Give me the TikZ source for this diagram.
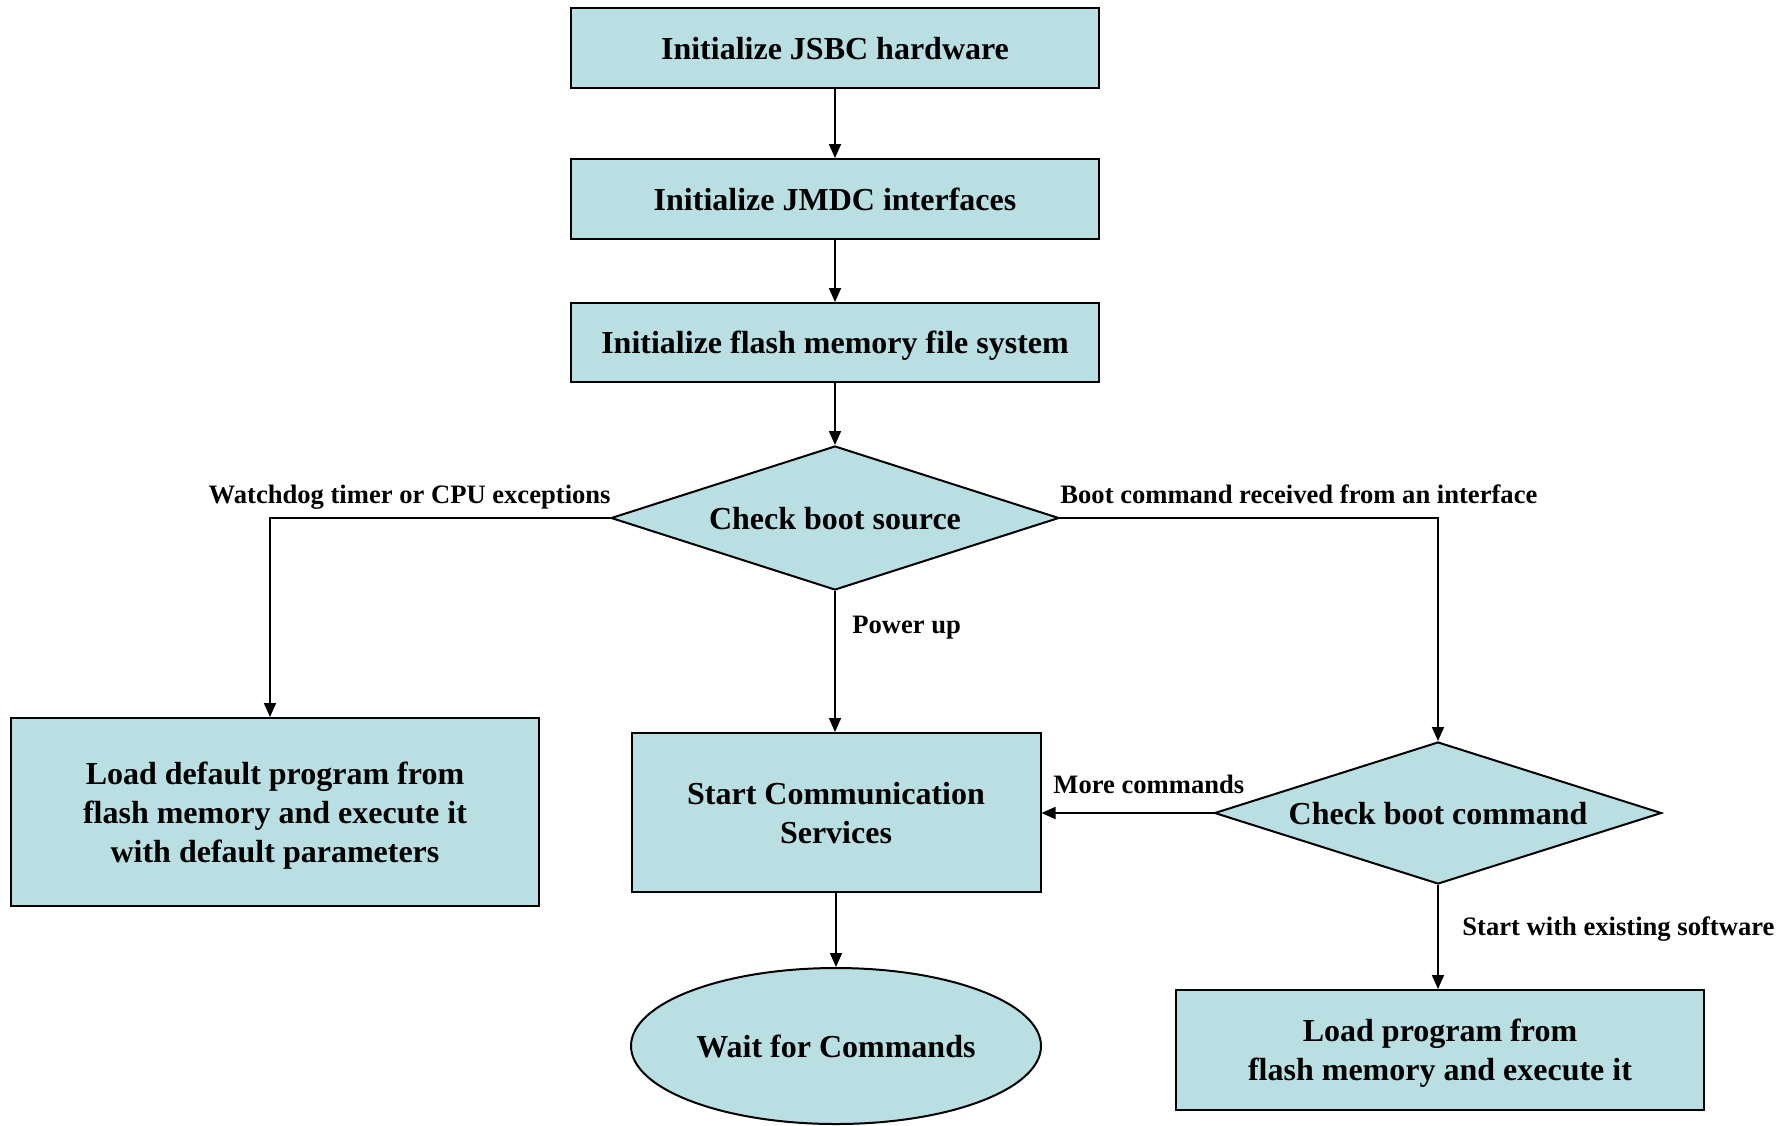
\documentclass[tikz,border=0pt]{standalone}
\usepackage{fontspec}
\setmainfont{Liberation Serif}
\usetikzlibrary{shapes.geometric,arrows.meta}
\definecolor{boxfill}{RGB}{185,223,227}
\tikzset{
  every node/.style={font=\bfseries},
  boxtext/.style={font=\fontsize{16}{19.5}\selectfont\bfseries, align=center, text depth=0pt},
  procbox/.style={boxtext, draw, line width=1pt, fill=boxfill, rectangle, inner sep=0pt},
  decision/.style={boxtext, draw, line width=1pt, fill=boxfill, diamond, shape aspect=3.1, inner sep=0pt},
  terminal/.style={boxtext, draw, line width=1pt, fill=boxfill, ellipse, inner sep=0pt},
  edgelabel/.style={font=\fontsize{13.3}{16}\selectfont\bfseries, inner sep=0pt},
  flow/.style={line width=0.9pt, -{Triangle[length=7pt,width=6pt]}}
}
\begin{document}
\begin{tikzpicture}[x=0.5pt, y=-0.5pt]
\useasboundingbox (0,0) rectangle (1792,1125);

% process steps down the middle
\node[procbox, minimum width=264pt, minimum height=40pt] (hw) at (835,48) {Initialize JSBC hardware};
\node[procbox, minimum width=264pt, minimum height=40pt] (jmdc) at (835,199) {Initialize JMDC interfaces};
\node[procbox, minimum width=264pt, minimum height=39.5pt] (fs) at (835,342.5) {Initialize flash memory file system};
\node[decision, minimum width=224pt, minimum height=72pt] (src) at (835,518) {Check boot source};

% the three boot paths
\node[procbox, minimum width=264pt, minimum height=94pt] (dflt) at (275,812) {Load default program from\\flash memory and execute it\\with default parameters};
\node[procbox, minimum width=204.5pt, minimum height=79.5pt] (comm) at (836,812.5) {Start Communication\\Services};
\node[terminal, minimum width=205pt, minimum height=78pt] (wait) at (836,1046) {Wait for Commands};
\node[decision, minimum width=223.5pt, minimum height=71pt] (cmd) at (1438,813) {Check boot command};
\node[procbox, minimum width=264pt, minimum height=60pt] (load) at (1440,1050) {Load program from\\flash memory and execute it};

% connectors
\draw[flow] (hw) -- (jmdc);
\draw[flow] (jmdc) -- (fs);
\draw[flow] (fs) -- (src);
\draw[flow] (src.west) -| ([xshift=-2.5pt]dflt.north);
\draw[flow] (src.south) -- (src.south |- comm.north);
\draw[flow] (src.east) -| (cmd.north);
\draw[flow] (cmd.west) -- (cmd.west -| comm.east);
\draw[flow] (cmd.south) -- (cmd.south |- load.north);
\draw[flow] (comm.south) -- (comm.south |- wait.north);

% branch labels
\node[edgelabel, anchor=base east] (lwd) at (611,503) {Watchdog timer or CPU exceptions};
\node[edgelabel, anchor=base west] (lbc) at (1060,503) {Boot command received from an interface};
\node[edgelabel, anchor=base west] (lpu) at (852,633) {Power up};
\node[edgelabel, anchor=base west] (lmc) at (1053,793) {More commands};
\node[edgelabel, anchor=base west] (lsw) at (1462,935) {Start with existing software};
\end{tikzpicture}
\end{document}
